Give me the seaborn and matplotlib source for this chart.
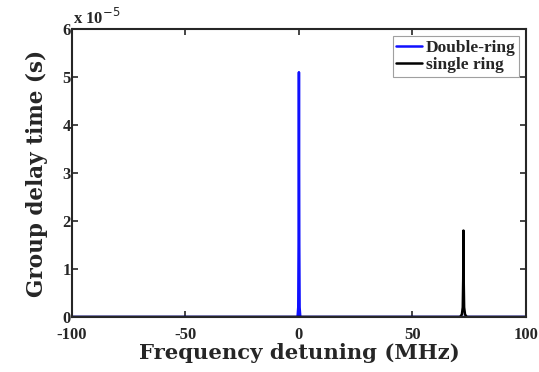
import numpy as np
import pandas as pd
import seaborn as sns
import matplotlib.pyplot as plt
from matplotlib.ticker import FuncFormatter

# values (frequency in MHz, delay in s)
double_freq = [-100, -0.6, -0.3, -0.15, 0.0, 0.15, 0.3, 0.6, 100]
double_delay = [0, 0, 0.2e-5, 1.5e-5, 5.1e-5, 1.5e-5, 0.2e-5, 0, 0]
single_freq = [-100, 71.0, 71.8, 72.2, 72.4, 72.5, 72.6, 72.8, 73.2, 74.0, 100]
single_delay = [0, 0, 0.05e-5, 0.2e-5, 0.8e-5, 1.8e-5, 0.8e-5, 0.2e-5, 0.05e-5, 0, 0]
x_ticks = [-100, -50, 0, 50, 100]
y_ticks = [0, 1e-5, 2e-5, 3e-5, 4e-5, 5e-5, 6e-5]

df = pd.concat([
    pd.DataFrame({"freq": double_freq, "delay": double_delay, "curve": "Double-ring"}),
    pd.DataFrame({"freq": single_freq, "delay": single_delay, "curve": "single ring"}),
])

sns.set_style("ticks")
plt.rcParams["font.family"] = ["Liberation Serif", "DejaVu Serif"]
plt.rcParams["axes.unicode_minus"] = False

fig = plt.figure(figsize=(5.39, 3.72), dpi=100)
ax = fig.add_axes([0.1336, 0.148, 0.842, 0.774])

sns.lineplot(data=df, x="freq", y="delay", hue="curve", sort=False,
             palette={"Double-ring": "#1010ff", "single ring": "black"},
             linewidth=1.8, ax=ax)

ax.set_xlim(-100, 100)
ax.set_ylim(0, 6e-5)
ax.set_xticks(x_ticks)
ax.set_yticks(y_ticks)
ax.yaxis.set_major_formatter(FuncFormatter(lambda v, p: f"{v / 1e-5:.0f}"))
ax.tick_params(direction="in", length=4, width=1.2, top=True, right=True,
               labelsize=12, pad=1)
ax.tick_params(axis="x", pad=7)
for lab in ax.get_xticklabels() + ax.get_yticklabels():
    lab.set_fontweight("bold")
for sp in ax.spines.values():
    sp.set_linewidth(1.5)
    sp.set_visible(True)

ax.text(0.002, 1.005, "x 10$^{-5}$", transform=ax.transAxes, fontsize=12,
        fontweight="bold", va="bottom", ha="left")

ax.set_xlabel("Frequency detuning (MHz)", fontsize=15.2, fontweight="bold",
              family="DejaVu Serif", labelpad=0)
ax.set_ylabel("Group delay time (s)", fontsize=15.5, fontweight="bold",
              family="DejaVu Serif", labelpad=10)

leg = ax.legend(loc="upper right", fontsize=12.5, frameon=True, fancybox=False,
                handlelength=1.5, handletextpad=0.2, borderpad=0.2,
                labelspacing=0.1, borderaxespad=0.4)
leg.get_frame().set_edgecolor("#888888")
leg.get_frame().set_linewidth(0.8)
for t in leg.get_texts():
    t.set_fontweight("bold")

fig.savefig("out.png", dpi=100)
